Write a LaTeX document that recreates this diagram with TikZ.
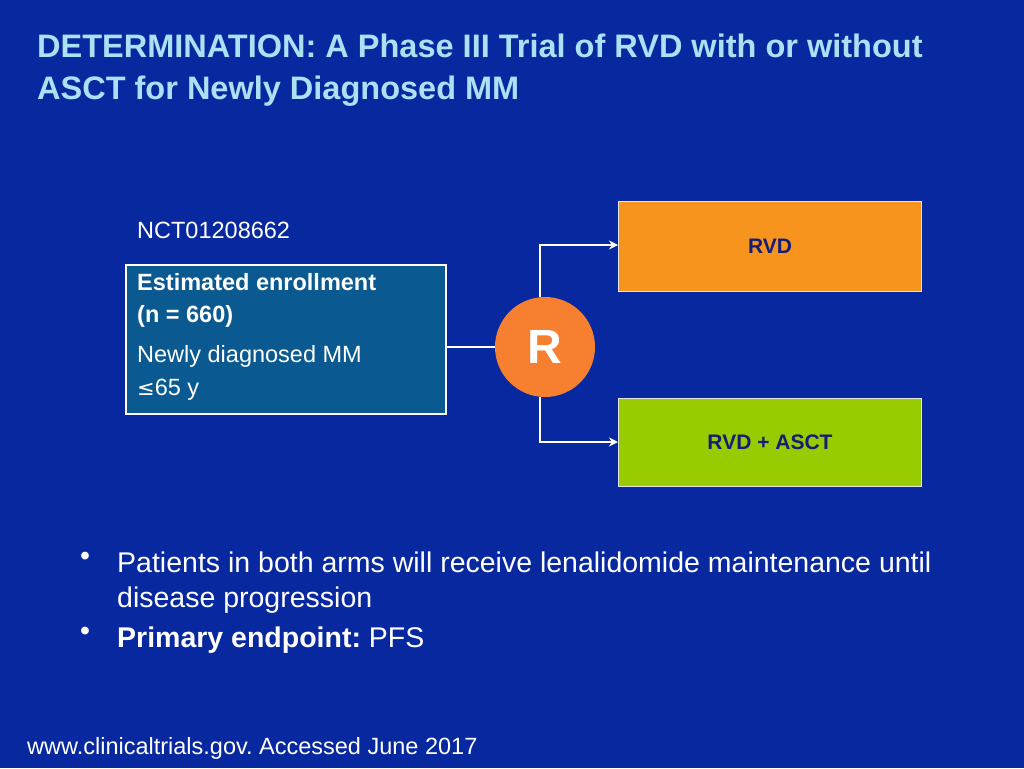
\documentclass[tikz,border=0pt]{standalone}
\usepackage{fontspec}
\setmainfont{Liberation Sans}
\usetikzlibrary{arrows.meta}
\definecolor{bg}{RGB}{8,40,160}
\definecolor{ttl}{RGB}{170,225,245}
\definecolor{enr}{RGB}{10,90,145}
\definecolor{ror}{RGB}{247,128,48}
\definecolor{rvd}{RGB}{247,148,30}
\definecolor{asct}{RGB}{153,204,0}
\definecolor{dk}{RGB}{20,30,120}
\frenchspacing
\begin{document}
\begin{tikzpicture}[x=1pt,y=-1pt,
  arm/.style={draw=white!80!gray,line width=1pt},
  lab/.style={font=\bfseries\fontsize{21}{24}\selectfont,text=dk},
  conn/.style={draw=white,line width=1.5pt},
  txt/.style={text=white,anchor=west,inner sep=0}]
\fill[bg] (0,0) rectangle (1024,768);
\useasboundingbox (0,0) rectangle (1024,768);
\node[anchor=north west,text=ttl,align=left,inner sep=0,font=\bfseries\fontsize{32.5}{42}\selectfont] (title) at (37,34)
 {DETERMINATION: A Phase III Trial of RVD with or without\\ASCT for Newly Diagnosed MM};
\node[txt,font=\fontsize{23.5}{26}\selectfont] (nct) at (137,230) {NCT01208662};
\node[draw=white,line width=1.5pt,fill=enr,minimum width=320,minimum height=149,anchor=north west] (enroll) at (125,264) {};
\node[txt,anchor=north west,align=left,font=\fontsize{23.5}{32}\selectfont] (et) at (137,273)
 {\textbf{Estimated enrollment}\\\textbf{(n = 660)}};
\node[txt,anchor=north west,align=left,font=\fontsize{23.5}{33}\selectfont] (nd) at (137,345)
 {Newly diagnosed MM\\{\fontspec{DejaVu Sans}\fontsize{21}{33}\selectfont ≤}65 y};
\node[circle,fill=ror,minimum size=100,inner sep=0,text=white,font=\bfseries\fontsize{48}{48}\selectfont] (R) at (545,347) {R};
\node[arm,fill=rvd,minimum width=303,minimum height=90,anchor=north west] (rvd) at (618,201) {};
\node[lab] (rvdl) at (770,246) {RVD};
\node[arm,fill=asct,minimum width=303,minimum height=88,anchor=north west] (asct) at (618,398) {};
\node[lab] (asctl) at (770,442) {RVD + ASCT};
\coordinate (e1) at (445,347);
\coordinate (t1) at (540,245); \coordinate (t2) at (618,245);
\coordinate (b1) at (540,442); \coordinate (b2) at (618,442);
\draw[conn] (e1) -- (R.west);
\draw[conn,-{Stealth[length=9pt,width=9pt]}] (540,297) -- (t1) -- (t2);
\draw[conn,-{Stealth[length=9pt,width=9pt]}] (540,397) -- (b1) -- (b2);
\node[txt,anchor=north west,font=\fontsize{28.5}{34}\selectfont] (bu1) at (80,552) {•};
\node[txt,anchor=north west,align=left,font=\fontsize{28.5}{35}\selectfont] (b1t) at (117,552)
 {Patients in both arms will receive lenalidomide maintenance until\\disease progression};
\node[txt,anchor=north west,font=\fontsize{28.5}{34}\selectfont] (bu2) at (80,627) {•};
\node[txt,anchor=north west,font=\fontsize{28.5}{34}\selectfont] (b2t) at (117,627) {\textbf{Primary endpoint:} PFS};
\node[txt,font=\fontsize{23.5}{26}\selectfont] (foot) at (27,748) {www.clinicaltrials.gov. Accessed June 2017};
\end{tikzpicture}
\end{document}
